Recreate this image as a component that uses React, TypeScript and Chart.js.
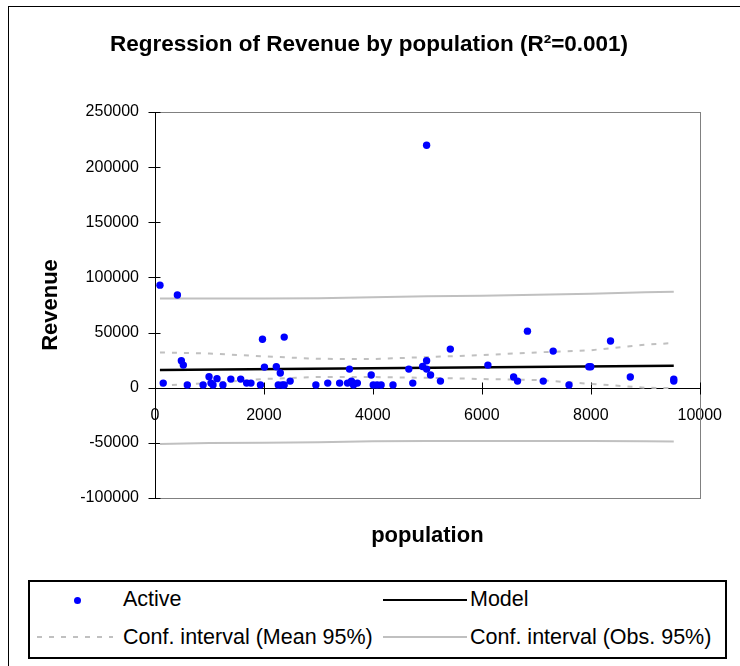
import React, { useEffect, useRef } from "react";
import { Chart, registerables } from "chart.js";

Chart.register(...registerables);

const FONT = "'Liberation Sans', Arial, sans-serif";

// Observations (population, revenue)
const populationValues = [
  91, 151, 411, 484, 520, 593, 883, 992, 1028, 1065, 1138, 1247, 1392, 1573, 1682, 1761,
  1936, 1973, 2009, 2227, 2263, 2300, 2336, 2372, 2372, 2481, 2953, 3171, 3389, 3534,
  3570, 3606, 3643, 3715, 3969, 4006, 4078, 4151, 4369, 4659, 4732, 4913, 4986, 4986,
  4986, 5058, 5240, 5421, 6111, 6583, 6655, 6837, 7127, 7309, 7600, 7963, 7999, 8362,
  8725, 9523, 9523,
];
const revenueValues = [
  93000, 4200, 84000, 24500, 20500, 2400, 2400, 10000, 4200, 2400, 8200, 2400, 7800, 7800, 4200, 4200,
  2400, 44000, 18700, 19000, 2400, 13300, 2400, 45900, 2400, 6000, 2400, 4200, 4200, 4200,
  16900, 6000, 2400, 4200, 11500, 2400, 2400, 2400, 2400, 16900, 4200, 19300, 219800, 24500,
  16900, 11500, 6000, 35000, 20500, 9700, 6000, 51300, 6000, 33200, 2400, 19000, 19000, 42300,
  9700, 7800, 6000,
];

// Regression model
const modelX = [91, 9523];
const modelY = [16000, 19900];

// Confidence intervals
const ciX = [91, 1000, 2000, 3000, 4000, 5000, 6000, 7000, 8000, 9000, 9523];
const meanUpper = [32000, 31000, 28400, 26200, 26000, 27800, 29500, 32000, 34000, 39000, 40500];
const meanLower = [2000, 4200, 7900, 9700, 9700, 9000, 7900, 7000, 3500, 0, -400];
const obsUpper = [81000, 81000, 81000, 81200, 82000, 83000, 83500, 84200, 85200, 86500, 87000];
const obsLower = [-51000, -50200, -50000, -49500, -48500, -48300, -48300, -48300, -48400, -48600, -48800];

const xTicksStep = 2000;
const yTicksStep = 50000;

const pts = (xs: number[], ys: number[]) => xs.map((x, i) => ({ x, y: ys[i] }));

const decorPlugin = {
  id: "decor",
  beforeDatasetsDraw(chart: any) {
    const { ctx, chartArea: a, scales } = chart;
    const xs = scales.x;
    const ys = scales.y;
    ctx.save();
    ctx.lineWidth = 1;
    ctx.strokeStyle = "#808080";
    ctx.strokeRect(
      Math.round(a.left) + 0.5,
      Math.round(a.top) + 0.5,
      Math.round(a.right - a.left),
      Math.round(a.bottom - a.top)
    );
    ctx.strokeStyle = "#000";
    const x0 = Math.round(xs.getPixelForValue(0)) + 0.5;
    const y0 = Math.round(ys.getPixelForValue(0)) + 0.5;
    ctx.beginPath();
    ctx.moveTo(x0, Math.round(a.top));
    ctx.lineTo(x0, Math.round(a.bottom) + 1);
    ys.ticks.forEach((t: any) => {
      const py = Math.round(ys.getPixelForValue(t.value)) + 0.5;
      ctx.moveTo(x0 - 7, py);
      ctx.lineTo(x0 + 5, py);
    });
    ctx.moveTo(Math.round(a.left), y0);
    ctx.lineTo(Math.round(a.right) + 1, y0);
    xs.ticks.forEach((t: any) => {
      const px = Math.round(xs.getPixelForValue(t.value)) + 0.5;
      ctx.moveTo(px, y0 - 6);
      ctx.lineTo(px, y0 + 6);
    });
    ctx.stroke();
    ctx.restore();
  },
  afterDraw(chart: any) {
    const { ctx, chartArea: a, width } = chart;
    ctx.save();
    ctx.fillStyle = "#000";
    ctx.textAlign = "center";
    ctx.textBaseline = "middle";
    ctx.font = `bold 22.5px ${FONT}`;
    ctx.fillText("Regression of Revenue by population (R²=0.001)", width / 2 - 1, 45);
    ctx.font = `bold 22px ${FONT}`;
    ctx.fillText("population", (a.left + a.right) / 2, 536);
    ctx.translate(51, (a.top + a.bottom) / 2);
    ctx.rotate(-Math.PI / 2);
    ctx.fillText("Revenue", 0, 0);
    ctx.restore();
  },
};

export default function App() {
  const ref = useRef<HTMLCanvasElement>(null);

  useEffect(() => {
    if (!ref.current) return;
    const tickFont = { family: FONT, size: 16 };
    const chart = new Chart(ref.current, {
      type: "scatter",
      data: {
        datasets: [
          {
            label: "Active",
            data: pts(populationValues, revenueValues),
            backgroundColor: "#0000ff",
            borderColor: "#0000ff",
            borderWidth: 0,
            pointRadius: 3.7,
            pointHoverRadius: 3.7,
          },
          {
            label: "Model",
            data: pts(modelX, modelY),
            showLine: true,
            borderColor: "#000",
            borderWidth: 2.5,
            pointRadius: 0,
            fill: false,
          },
          {
            label: "Conf. interval (Mean 95%)",
            data: pts(ciX, meanUpper),
            showLine: true,
            borderColor: "#c0c0c0",
            borderWidth: 2,
            borderDash: [5, 7],
            pointRadius: 0,
            fill: false,
          },
          {
            label: "Conf. interval (Mean 95%) lower",
            data: pts(ciX, meanLower),
            showLine: true,
            borderColor: "#c0c0c0",
            borderWidth: 2,
            borderDash: [5, 7],
            pointRadius: 0,
            fill: false,
          },
          {
            label: "Conf. interval (Obs. 95%)",
            data: pts(ciX, obsUpper),
            showLine: true,
            borderColor: "#c0c0c0",
            borderWidth: 2,
            pointRadius: 0,
            fill: false,
          },
          {
            label: "Conf. interval (Obs. 95%) lower",
            data: pts(ciX, obsLower),
            showLine: true,
            borderColor: "#c0c0c0",
            borderWidth: 2,
            pointRadius: 0,
            fill: false,
          },
        ],
      },
      options: {
        responsive: false,
        animation: false,
        events: [],
        layout: { padding: { top: 112, right: 34, bottom: 168, left: 0 } },
        plugins: {
          legend: { display: false },
          title: { display: false },
          tooltip: { enabled: false },
        },
        scales: {
          x: {
            type: "linear",
            position: { y: 0 } as any,
            min: 0,
            max: 10000,
            ticks: {
              stepSize: xTicksStep,
              callback: (v: any) => String(v),
              color: "#000",
              font: tickFont,
              padding: 18,
              maxRotation: 0,
              autoSkip: false,
            },
            grid: { display: false, drawTicks: false },
            border: { display: false },
          },
          y: {
            type: "linear",
            min: -100000,
            max: 250000,
            ticks: {
              stepSize: yTicksStep,
              callback: (v: any) => String(v),
              color: "#000",
              font: tickFont,
              padding: 16,
            },
            grid: { display: false, drawTicks: false },
            border: { display: false },
            afterFit: (s: any) => {
              s.width = 155;
            },
          },
        },
      },
      plugins: [decorPlugin],
    });
    return () => chart.destroy();
  }, []);

  const text = (left: number, cy: number, label: string) => (
    <div
      style={{
        position: "absolute",
        left,
        top: cy - 14,
        height: 28,
        lineHeight: "28px",
        whiteSpace: "nowrap",
      }}
    >
      {label}
    </div>
  );

  // legend inner coordinates (box at 28,580 with 2px border)
  const ox = 30;
  const oy = 582;

  return (
    <div
      style={{
        position: "fixed",
        left: 0,
        top: 0,
        width: 740,
        height: 666,
        overflow: "hidden",
        background: "#fff",
      }}
    >
      <div
        style={{
          position: "absolute",
          left: 8,
          top: 6,
          width: 800,
          height: 800,
          border: "1px solid #000",
        }}
      />
      <canvas
        ref={ref}
        width={740}
        height={666}
        style={{ position: "absolute", left: 0, top: 0, width: 740, height: 666 }}
      />
      <div
        style={{
          position: "absolute",
          left: 28,
          top: 580,
          width: 699,
          height: 79,
          boxSizing: "border-box",
          border: "2px solid #000",
          background: "#fff",
          fontFamily: FONT,
          fontSize: 21.5,
          color: "#000",
        }}
      >
        <div
          style={{
            position: "absolute",
            left: 77 - 3.5 - ox,
            top: 600 - 3.5 - oy,
            width: 7,
            height: 7,
            borderRadius: "50%",
            background: "#0000ff",
          }}
        />
        {text(123 - ox, 599 - oy, "Active")}
        <div
          style={{
            position: "absolute",
            left: 383 - ox,
            top: 600 - 1 - oy,
            width: 84,
            height: 2,
            background: "#000",
          }}
        />
        {text(470 - ox, 599 - oy, "Model")}
        <div
          style={{
            position: "absolute",
            left: 37 - ox,
            top: 637 - 1 - oy,
            width: 76,
            height: 2,
            background:
              "repeating-linear-gradient(to right, #c0c0c0 0px, #c0c0c0 5px, transparent 5px, transparent 12px)",
          }}
        />
        {text(123 - ox, 637 - oy, "Conf. interval (Mean 95%)")}
        <div
          style={{
            position: "absolute",
            left: 383 - ox,
            top: 637 - 1 - oy,
            width: 84,
            height: 2,
            background: "#c0c0c0",
          }}
        />
        {text(470 - ox, 637 - oy, "Conf. interval (Obs. 95%)")}
      </div>
    </div>
  );
}
